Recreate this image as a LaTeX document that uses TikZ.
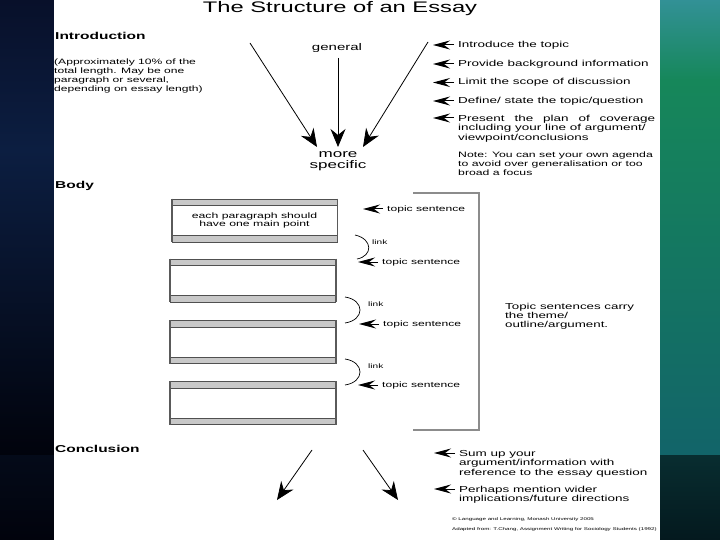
\documentclass[tikz,border=0pt]{standalone}
\usepackage{fontspec}
\setmainfont[FakeStretch=1.55]{Liberation Sans}
\usetikzlibrary{arrows.meta}
\definecolor{navyTop}{RGB}{8,16,42}
\definecolor{navyMid}{RGB}{12,30,65}
\definecolor{navyBot}{RGB}{1,3,12}
\definecolor{navyLow}{RGB}{4,10,25}
\definecolor{tealTop}{RGB}{50,145,150}
\definecolor{greenMid}{RGB}{22,135,90}
\definecolor{tealLow}{RGB}{18,100,105}
\definecolor{darkTeal}{RGB}{8,45,48}
\definecolor{darkTealB}{RGB}{4,25,30}
\definecolor{barGray}{RGB}{200,200,200}
\definecolor{edgeGray}{RGB}{80,80,80}
\definecolor{sideGray}{RGB}{90,90,90}
\definecolor{brGray}{RGB}{140,140,140}
\begin{document}
\begin{tikzpicture}[x=1pt,y=-1pt,
  every node/.style={inner sep=0pt, text=black},
  txt/.style={anchor=west},
  mtxt/.style={anchor=north west, align=left},
  head/.style={anchor=west, font=\fontsize{10}{12}\selectfont\bfseries},
  flow/.style={-{Stealth[length=18pt,width=15pt,inset=6pt]}, line width=0.8pt},
  pointer/.style={-{Stealth[length=17pt,width=9pt,inset=6pt]}, line width=1pt},
  linkarc/.style={line width=0.7pt},
  side/.style={line width=1.6pt, draw=sideGray},
  bracketline/.style={line width=1.2pt, draw=brGray},
  parbox/.style={draw=edgeGray, line width=0.6pt, minimum width=165pt, minimum height=43pt,
    align=center, font=\fontsize{7.9}{8.5}\selectfont,
    path picture={
      \fill[barGray] (path picture bounding box.north west) rectangle ([yshift=-6.5pt]path picture bounding box.north east);
      \draw[edgeGray, line width=0.6pt] ([yshift=-6.5pt]path picture bounding box.north west) -- ([yshift=-6.5pt]path picture bounding box.north east);
      \fill[barGray] (path picture bounding box.south west) rectangle ([yshift=6.5pt]path picture bounding box.south east);
      \draw[edgeGray, line width=0.6pt] ([yshift=6.5pt]path picture bounding box.south west) -- ([yshift=6.5pt]path picture bounding box.south east);
    }},
  lf/.style={font=\fontsize{8.7}{9.5}\selectfont},
  tsf/.style={font=\fontsize{7.8}{9}\selectfont},
  linkf/.style={font=\fontsize{6.5}{8}\selectfont}
]
\useasboundingbox (0,0) rectangle (720,540);
% backgrounds
\shade[top color=navyTop, bottom color=navyMid] (0,0) rectangle (54,150);
\shade[top color=navyMid, bottom color=navyBot] (0,150) rectangle (54,455);
\shade[top color=navyLow, bottom color=navyBot] (0,455) rectangle (54,540);
\shade[top color=tealTop, bottom color=greenMid] (660,0) rectangle (720,80);
\shade[top color=greenMid, bottom color=tealLow] (660,80) rectangle (720,455);
\shade[top color=darkTeal, bottom color=darkTealB] (660,455) rectangle (720,540);
\fill[white] (54,0) rectangle (660,540);

% title
\node[font=\fontsize{15.3}{18}\selectfont] (title) at (340,9) {The Structure of an Essay};

% Introduction
\node[head] (intro) at (55,36) {Introduction};
\node[mtxt, font=\fontsize{7.8}{8.7}\selectfont] (introNote) at (54,59.1)
  {(Approximately 10\% of the\\total length. May be one\\paragraph or several,\\depending on essay length)};

\node[font=\fontsize{9.7}{11}\selectfont] (general) at (337,47.5) {general};
\node[anchor=north, align=center, font=\fontsize{11}{11}\selectfont] (specific) at (338,151.5) {more\\specific};

\coordinate (aL) at (250,43);
\coordinate (aLt) at (317,147);
\coordinate (aM) at (338,58);
\coordinate (aMt) at (338,147);
\coordinate (aR) at (428,42);
\coordinate (aRt) at (363,147);
\draw[flow] (aL) -- (aLt);
\draw[flow] (aM) -- (aMt);
\draw[flow] (aR) -- (aRt);

% intro list
\node[txt, lf] (i1) at (458,45) {Introduce the topic};
\node[txt, lf] (i2) at (458,64) {Provide background information};
\node[txt, lf] (i3) at (458,82.5) {Limit the scope of discussion};
\node[txt, lf] (i4) at (458,101) {Define/ state the topic/question};
\node[mtxt, lf] (i5) at (458,114.8)
  {\makebox[197pt][s]{Present the plan of coverage}\\including your line of argument/\\viewpoint/conclusions};
\node[mtxt, font=\fontsize{7.9}{9}\selectfont] (note) at (458,151.1)
  {Note: You can set your own agenda\\to avoid over generalisation or too\\broad a focus};
\foreach \n in {i1,i2,i3,i4}
  \draw[pointer] ([xshift=-4pt]\n.west) -- ++(-21,0);
\draw[pointer] ([xshift=-4pt,yshift=-3.2pt]i5.north west) -- ++(-21,0);

% Body
\node[head] (body) at (55,185.5) {Body};
\node[parbox] (p1) at (254.5,220.5) {each paragraph should\\have one main point};
\node[parbox] (p2) at (253,280.5) {};
\node[parbox] (p3) at (253,342) {};
\node[parbox] (p4) at (253,403) {};
\foreach \p in {p1,p2,p3,p4}
  \draw[side] (\p.north west) -- (\p.south west) (\p.north east) -- (\p.south east);

% topic sentences
\node[txt, tsf] (ts1) at (387,209) {topic sentence};
\node[txt, tsf] (ts2) at (382,262) {topic sentence};
\node[txt, tsf] (ts3) at (383,324) {topic sentence};
\node[txt, tsf] (ts4) at (382,385) {topic sentence};
\foreach \n in {ts1,ts2,ts3,ts4}
  \draw[pointer] ([xshift=-4pt]\n.west) -- ++(-20,0);

% links
\coordinate (la1) at (355,235); \coordinate (lb1) at (357,259);
\coordinate (la2) at (345,297); \coordinate (lb2) at (345,323);
\coordinate (la3) at (345,359); \coordinate (lb3) at (345,385);
\draw[linkarc] (la1) .. controls (373,239) and (373,256) .. (lb1);
\draw[linkarc] (la2) .. controls (365,300) and (365,320) .. (lb2);
\draw[linkarc] (la3) .. controls (365,362) and (365,382) .. (lb3);
\node[txt, linkf] (link1) at (372,242) {link};
\node[txt, linkf] (link2) at (368,304) {link};
\node[txt, linkf] (link3) at (368,366) {link};

% bracket
\coordinate (brT) at (413,193);
\coordinate (brB) at (413,430);
\draw[bracketline] (brT) -- (479,193) -- (479,430) -- (brB);
\node[mtxt, font=\fontsize{8.6}{8.6}\selectfont] (carry) at (505,303.5)
  {Topic sentences carry\\the theme/\\outline/argument.};

% Conclusion
\node[head] (concl) at (55,449) {Conclusion};
\coordinate (cL) at (312,450);
\coordinate (cLt) at (277,500);
\coordinate (cR) at (363,450);
\coordinate (cRt) at (398,500);
\draw[flow] (cL) -- (cLt);
\draw[flow] (cR) -- (cRt);
\node[mtxt, lf] (c1) at (459,449.8)
  {Sum up your\\argument/information with\\reference to the essay question};
\node[mtxt, lf] (c2) at (459,485.8)
  {Perhaps mention wider\\implications/future directions};
\draw[pointer] ([xshift=-4pt,yshift=-3.2pt]c1.north west) -- ++(-21,0);
\draw[pointer] ([xshift=-4pt,yshift=-3.2pt]c2.north west) -- ++(-21,0);

\node[mtxt, font=\fontsize{4.0}{10}\selectfont] (copy) at (452,517)
  {\textcopyright\ Language and Learning, Monash University 2005\\Adapted from: T.Chang, Assignment Writing for Sociology Students (1992)};
\end{tikzpicture}
\end{document}
